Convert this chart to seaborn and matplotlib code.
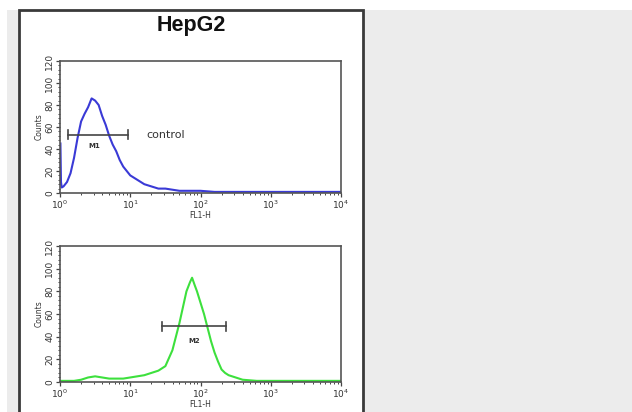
import numpy as np
import seaborn as sns
import matplotlib.pyplot as plt
from matplotlib.patches import Rectangle
from matplotlib.ticker import LogLocator, MultipleLocator

# control histogram (log10 FL1-H, counts)
control_log = [0.006, 0.014, 0.025, 0.05, 0.10, 0.15, 0.20, 0.25, 0.30, 0.35, 0.40, 0.45,
               0.50, 0.55, 0.60, 0.65, 0.70, 0.75, 0.80, 0.85, 0.90, 0.95, 1.00, 1.10,
               1.20, 1.30, 1.40, 1.50, 1.60, 1.70, 1.80, 1.90, 2.00, 2.20, 2.50, 3.00,
               3.50, 4.00]
control_counts = [45, 10, 5, 6, 10, 18, 32, 50, 65, 72, 78, 86,
                  84, 80, 70, 62, 52, 44, 38, 30, 24, 20, 16, 12,
                  8, 6, 4, 4, 3, 2, 2, 2, 2, 1, 1, 1,
                  1, 1]

# stained sample histogram
sample_log = [0.00, 0.20, 0.30, 0.40, 0.50, 0.60, 0.70, 0.80, 0.90, 1.00, 1.10, 1.20,
              1.30, 1.40, 1.50, 1.60, 1.70, 1.75, 1.80, 1.85, 1.88, 1.92, 1.95, 2.00,
              2.05, 2.10, 2.15, 2.20, 2.25, 2.30, 2.35, 2.40, 2.50, 2.60, 2.80, 3.00,
              3.50, 4.00]
sample_counts = [1, 1, 2, 4, 5, 4, 3, 3, 3, 4, 5, 6,
                 8, 10, 14, 28, 52, 66, 80, 88, 92, 85, 80, 70,
                 60, 48, 36, 26, 18, 11, 8, 6, 4, 2, 1, 1,
                 1, 1]

# markers: (left, right, y, label, label_x, label_y)
markers = [
    (1.3, 9.3, 53, "M1", 3.1, 43),
    (28, 230, 49, "M2", 80, 36),
]

fig = plt.figure(figsize=(6.32, 4.12), dpi=100)
fig.patch.set_facecolor("white")
fig.patches.append(Rectangle((7 / 632, 0), 1, 1 - 10 / 412, transform=fig.transFigure,
                             facecolor="#ececec", edgecolor="none", zorder=-2))
fig.patches.append(Rectangle((19 / 632, -0.05), 344 / 632, 1.05 - 10 / 412,
                             transform=fig.transFigure, facecolor="white",
                             edgecolor="#3a3a3a", linewidth=2, zorder=-1))

fig.text(191 / 632, 1 - 26 / 412, "HepG2", ha="center", va="center",
         fontsize=15.5, fontweight="bold", family="Liberation Sans", color="#111111")

ax1 = fig.add_axes([60 / 632, 1 - 193 / 412, 281 / 632, 132 / 412])
ax2 = fig.add_axes([60 / 632, 1 - 382 / 412, 281 / 632, 136 / 412])

curves = [(ax1, control_log, control_counts, "#3a3ad6"),
          (ax2, sample_log, sample_counts, "#3de03d")]

for (ax, lx, cnt, col), (m0, m1, my, mlab, tx, ty) in zip(curves, markers):
    sns.lineplot(x=10 ** np.array(lx), y=cnt, ax=ax, color=col, linewidth=1.5)
    ax.set_xscale("log")
    ax.set_xlim(1, 1e4)
    ax.set_ylim(0, 120)
    ax.yaxis.set_major_locator(MultipleLocator(20))
    ax.yaxis.set_minor_locator(MultipleLocator(4))
    ax.xaxis.set_major_locator(LogLocator(base=10))
    ax.xaxis.set_minor_locator(LogLocator(base=10, subs=np.arange(2, 10)))
    ax.tick_params(axis="both", which="major", length=3, width=0.9, color="#444444",
                   labelsize=6.5, pad=1, labelcolor="#333333")
    ax.tick_params(axis="both", which="minor", length=1.5, width=0.7, color="#444444")
    for lbl in ax.get_yticklabels():
        lbl.set_rotation(90)
        lbl.set_va("center")
    ax.set_xlabel("FL1-H", fontsize=5.5, labelpad=0, color="#333333")
    ax.set_ylabel("Counts", fontsize=5.5, labelpad=1, color="#333333")
    for s in ax.spines.values():
        s.set_color("#555555")
        s.set_linewidth(1.2)
    # gate marker
    ax.plot([m0, m1], [my, my], color="#444444", linewidth=1.2)
    ax.plot([m0, m0], [my - 4, my + 4], color="#444444", linewidth=1.2)
    ax.plot([m1, m1], [my - 4, my + 4], color="#444444", linewidth=1.2)
    ax.text(tx, ty, mlab, fontsize=5, fontweight="bold", ha="center", va="center",
            color="#333333")

ax1.text(17, 53, "control", fontsize=8, ha="left", va="center", color="#333333")

fig.savefig("out.png", dpi=100)
